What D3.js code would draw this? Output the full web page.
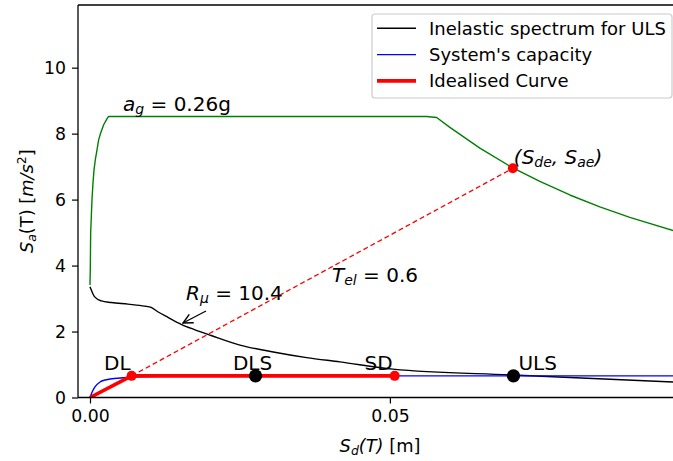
<!DOCTYPE html>
<html>
<head>
<meta charset="utf-8">
<script src="https://cdn.jsdelivr.net/npm/d3@7"></script>
<style>
  html, body { margin: 0; padding: 0; background: #fff; }
  svg { display: block; font-family: "DejaVu Sans", sans-serif; }
</style>
</head>
<body>
<svg id="chart" width="673" height="461"></svg>
<script>
// Elastic spectrum (ADRS), Sd [m] vs Sa [m/s^2]
const elasticSd = [0, 0.000055, 0.00011, 0.00022, 0.00033, 0.0005, 0.00067, 0.00089, 0.00117, 0.00144, 0.00178, 0.00228, 0.00289, 0.00311, 0.0561, 0.0578, 0.060, 0.065, 0.0705, 0.075, 0.080, 0.085, 0.090, 0.0987];
const elasticSa = [3.41, 3.97, 4.98, 5.48, 5.99, 6.50, 6.90, 7.21, 7.51, 7.81, 8.02, 8.27, 8.47, 8.52, 8.52, 8.49, 8.19, 7.56, 6.96, 6.55, 6.14, 5.78, 5.46, 4.98];

// Inelastic spectrum for ULS
const inelasticSd = [0, 0.00022, 0.00078, 0.00189, 0.00356, 0.00633, 0.00911, 0.0102, 0.0113, 0.013, 0.0152, 0.0174, 0.0202, 0.025, 0.03055, 0.03611, 0.04167, 0.0505, 0.0705, 0.0987];
const inelasticSa = [3.36, 3.26, 3.05, 2.93, 2.88, 2.83, 2.77, 2.73, 2.60, 2.43, 2.22, 2.06, 1.88, 1.59, 1.38, 1.21, 1.08, 0.86, 0.68, 0.46];

// System's capacity curve
const capacitySd = [0, 0.0004, 0.00083, 0.00167, 0.0025, 0.00333, 0.00556, 0.00833, 0.0125, 0.02, 0.04, 0.06, 0.0987];
const capacitySa = [0, 0.18, 0.32, 0.47, 0.53, 0.56, 0.60, 0.63, 0.645, 0.652, 0.655, 0.656, 0.657];

// Idealised bilinear curve: origin, yield (DL), SD
const idealSd = [0, 0.00694, 0.0508];
const idealSa = [0, 0.656, 0.656];

// Elastic demand point
const sde = 0.0705, sae = 6.95;

// Limit-state points
const limitNames = ["DL", "DLS", "SD", "ULS"];
const limitSd = [0.00694, 0.0276, 0.0508, 0.0706];
const limitSa = [0.656, 0.656, 0.656, 0.656];

const xTicks = [0, 0.05];
const yTicks = [0, 2, 4, 6, 8, 10];

const legendLabels = ["Inelastic spectrum for ULS", "System's capacity", "Idealised Curve"];

const svg = d3.select("#chart");
const margin = { left: 78, top: 5, right: 682, bottom: 397.5 };
const x = d3.scaleLinear().domain([-0.002, 0.0987]).range([margin.left, margin.right]);
const y = d3.scaleLinear().domain([0, 11.9]).range([margin.bottom, margin.top]);

const TICK_FS = 17.3, LABEL_FS = 17.8, LEGEND_FS = 18, NOTE_FS = 20;

svg.append("defs").append("clipPath").attr("id", "plotclip")
  .append("rect").attr("x", margin.left).attr("y", margin.top)
  .attr("width", margin.right - margin.left).attr("height", margin.bottom - margin.top);

const plot = svg.append("g").attr("clip-path", "url(#plotclip)");

const zip = (a, b) => a.map((v, i) => [v, b[i]]);
const smooth = d3.line().x(d => x(d[0])).y(d => y(d[1])).curve(d3.curveMonotoneX);
const straight = d3.line().x(d => x(d[0])).y(d => y(d[1]));

plot.append("path").attr("d", straight(zip(elasticSd, elasticSa)))
  .attr("fill", "none").attr("stroke", "#008000").attr("stroke-width", 1.4)
  .attr("stroke-linejoin", "round");
plot.append("path").attr("d", smooth(zip(inelasticSd, inelasticSa)))
  .attr("fill", "none").attr("stroke", "#000").attr("stroke-width", 1.4);
plot.append("path").attr("d", smooth(zip(capacitySd, capacitySa)))
  .attr("fill", "none").attr("stroke", "#0000ff").attr("stroke-width", 1.4);
plot.append("path").attr("d", straight(zip(idealSd, idealSa)))
  .attr("fill", "none").attr("stroke", "#ff0000").attr("stroke-width", 3.6);

// Secant line from yield point to the elastic demand
plot.append("path").attr("d", straight([[idealSd[1], idealSa[1]], [sde, sae]]))
  .attr("fill", "none").attr("stroke", "#ff0000").attr("stroke-width", 1.3)
  .attr("stroke-dasharray", "5,3");

// Markers
const red = new Set(["DL", "SD"]);
limitNames.forEach((n, i) => {
  plot.append("circle").attr("cx", x(limitSd[i])).attr("cy", y(limitSa[i]))
    .attr("r", red.has(n) ? 5 : 6.7).attr("fill", red.has(n) ? "#ff0000" : "#000");
});
plot.append("circle").attr("cx", x(sde)).attr("cy", y(sae)).attr("r", 5).attr("fill", "#ff0000");

// Axes frame (left, bottom, top)
const frame = svg.append("g").attr("stroke", "#000").attr("stroke-width", 1.3).attr("fill", "none");
frame.append("line").attr("x1", margin.left).attr("x2", margin.left).attr("y1", margin.top).attr("y2", margin.bottom);
frame.append("line").attr("x1", margin.left).attr("x2", margin.right).attr("y1", margin.bottom).attr("y2", margin.bottom);
frame.append("line").attr("x1", margin.left).attr("x2", margin.right).attr("y1", margin.top).attr("y2", margin.top);

const xAxis = d3.axisBottom(x).tickValues(xTicks).tickFormat(d3.format(".2f")).tickSize(6).tickPadding(6);
const yAxis = d3.axisLeft(y).tickValues(yTicks).tickFormat(d3.format("d")).tickSize(6).tickPadding(6);
const gx = svg.append("g").attr("transform", `translate(0,${margin.bottom})`).call(xAxis);
const gy = svg.append("g").attr("transform", `translate(${margin.left},0)`).call(yAxis);
[gx, gy].forEach(g => {
  g.select(".domain").remove();
  g.selectAll(".tick line").attr("stroke", "#000").attr("stroke-width", 1.2);
  g.selectAll(".tick text").attr("font-size", TICK_FS).attr("fill", "#000")
    .attr("font-family", "DejaVu Sans");
});

// Rich text helper: parts are [text, style] where style may contain i (italic), sub, sup
function richText(sel, fs, parts) {
  sel.attr("font-size", fs);
  let shift = 0;
  parts.forEach(([t, st]) => {
    const ts = sel.append("tspan").text(t);
    let target = 0, size = null;
    if (st && st.includes("sub")) { target = 0.16 * fs; size = fs * 0.7; }
    if (st && st.includes("sup")) { target = -0.4 * fs; size = fs * 0.7; }
    ts.attr("dy", target - shift);
    shift = target;
    if (size) ts.attr("font-size", size);
    if (st && st.includes("i")) ts.attr("font-style", "italic");
  });
  return sel;
}

// Axis labels
richText(svg.append("text").attr("x", (margin.left + margin.right) / 2).attr("y", 452)
  .attr("text-anchor", "middle"), LABEL_FS,
  [["S", "i"], ["d", "i sub"], ["(T)", "i"], [" [m]", ""]]);

richText(svg.append("text").attr("transform", `translate(33,${(margin.top + margin.bottom) / 2}) rotate(-90)`)
  .attr("text-anchor", "middle"), LABEL_FS,
  [["S", "i"], ["a", "i sub"], ["(T) [", ""], ["m/s", "i"], ["2", "sup"], ["]", ""]]);

// Annotations
richText(svg.append("text").attr("x", 123).attr("y", 111), NOTE_FS,
  [["a", "i"], ["g", "i sub"], [" = 0.26g", ""]]);

richText(svg.append("text").attr("x", x(sde) + 1).attr("y", y(sae) - 4), NOTE_FS,
  [["(S", "i"], ["de", "i sub"], [", S", "i"], ["ae", "i sub"], [")", "i"]]);

richText(svg.append("text").attr("x", 186).attr("y", 299.5), NOTE_FS,
  [["R", "i"], ["μ", "i sub"], [" = 10.4", ""]]);

richText(svg.append("text").attr("x", 332).attr("y", 282), NOTE_FS,
  [["T", "i"], ["el", "i sub"], [" = 0.6", ""]]);

// Arrow pointing to the inelastic spectrum
svg.append("defs").append("marker").attr("id", "arrowhead")
  .attr("viewBox", "0 0 10 10").attr("refX", 9).attr("refY", 5)
  .attr("markerWidth", 12).attr("markerHeight", 12).attr("markerUnits", "userSpaceOnUse")
  .attr("orient", "auto")
  .append("path").attr("d", "M1,1 L9,5 L1,9").attr("fill", "none").attr("stroke", "#000")
  .attr("stroke-width", 1.2).attr("stroke-linejoin", "miter");
svg.append("line").attr("x1", 206).attr("y1", 311).attr("x2", 183).attr("y2", 323)
  .attr("stroke", "#000").attr("stroke-width", 1.3).attr("marker-end", "url(#arrowhead)");

// Limit-state labels
const labelPlace = {
  DL:  { dx: -1, anchor: "end" },
  DLS: { dx: -3, anchor: "middle" },
  SD:  { dx: -2, anchor: "end" },
  ULS: { dx: 5, anchor: "start" }
};
limitNames.forEach((n, i) => {
  const p = labelPlace[n];
  svg.append("text").attr("x", x(limitSd[i]) + p.dx).attr("y", y(limitSa[i]) - 6)
    .attr("text-anchor", p.anchor).attr("font-size", NOTE_FS).text(n);
});

// Legend
const lg = svg.append("g");
lg.append("rect").attr("x", 372).attr("y", 14).attr("width", 300).attr("height", 84)
  .attr("rx", 3).attr("fill", "#fff").attr("fill-opacity", 0.8)
  .attr("stroke", "#cccccc").attr("stroke-width", 1.2);
const legendColors = ["#000", "#0000ff", "#ff0000"];
const legendWidths = [1.4, 1.4, 3.6];
legendLabels.forEach((t, i) => {
  const cy = 28.3 + i * 26.3;
  lg.append("line").attr("x1", 377).attr("x2", 416).attr("y1", cy).attr("y2", cy)
    .attr("stroke", legendColors[i]).attr("stroke-width", legendWidths[i]);
  lg.append("text").attr("x", 429).attr("y", cy + 6.5).attr("font-size", LEGEND_FS).text(t);
});
</script>
</body>
</html>
